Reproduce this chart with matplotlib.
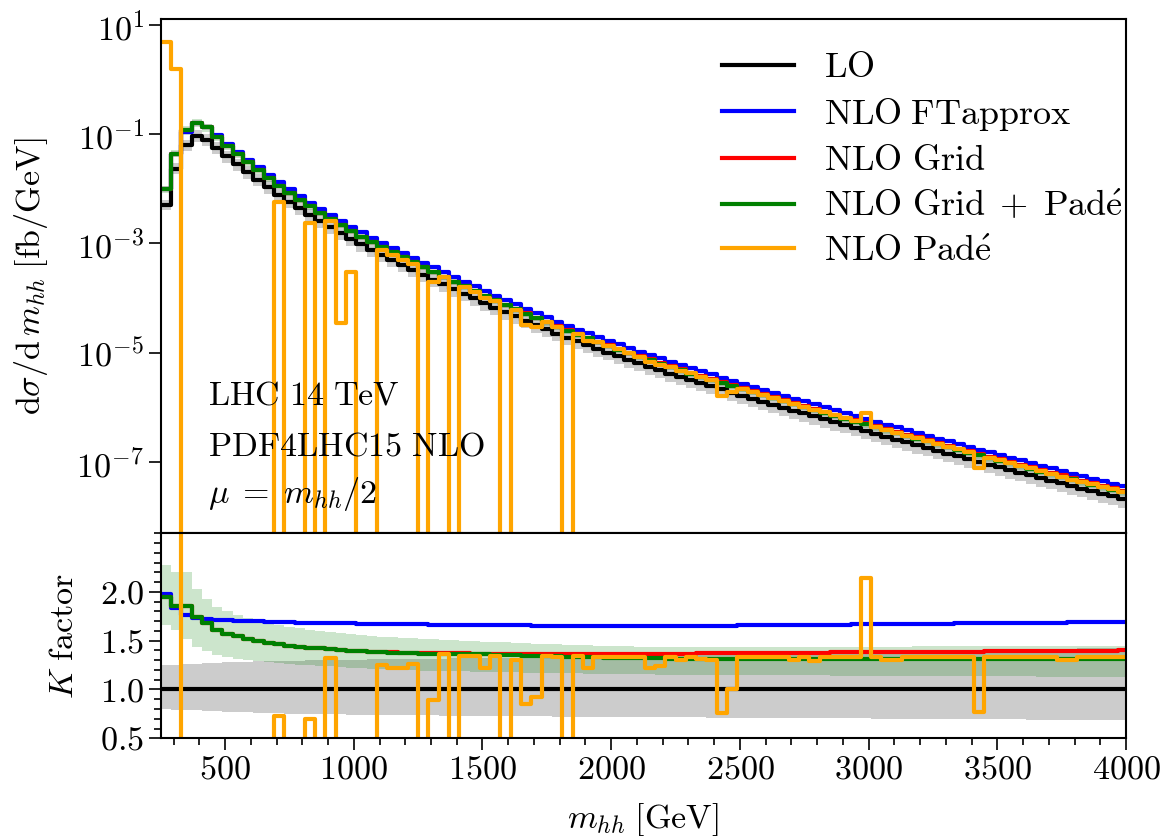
import numpy as np
import matplotlib
matplotlib.use('Agg')
import matplotlib.pyplot as plt
from matplotlib.ticker import FixedLocator, NullLocator, MultipleLocator, FuncFormatter

plt.rcParams['mathtext.fontset'] = 'cm'
plt.rcParams['font.family'] = ['cmr10', 'DejaVu Serif']
plt.rcParams['axes.formatter.use_mathtext'] = True

# ---------------- data ----------------
bin_start = 250.0
bin_width = 40.0
n_bins = 94

lo_log10 = [
    -2.30, -1.63, -1.20, -1.03, -1.10, -1.255, -1.407, -1.555, -1.699, -1.839,
    -1.975, -2.107, -2.235, -2.359, -2.479, -2.595, -2.707, -2.815, -2.919, -3.019,
    -3.116, -3.210, -3.301, -3.393, -3.484, -3.574, -3.663, -3.751, -3.838, -3.924,
    -4.009, -4.093, -4.176, -4.258, -4.339, -4.419, -4.498, -4.576, -4.653, -4.725,
    -4.796, -4.866, -4.935, -5.002, -5.069, -5.134, -5.199, -5.262, -5.324, -5.386,
    -5.446, -5.505, -5.563, -5.620, -5.676, -5.732, -5.787, -5.843, -5.898, -5.953,
    -6.007, -6.062, -6.116, -6.170, -6.223, -6.277, -6.330, -6.383, -6.436, -6.488,
    -6.541, -6.593, -6.645, -6.696, -6.748, -6.799, -6.850, -6.900, -6.951, -7.001,
    -7.051, -7.101, -7.150, -7.200, -7.249, -7.298, -7.346, -7.395, -7.443, -7.491,
    -7.538, -7.586, -7.633, -7.680]

k_ftapprox = [
    1.975, 1.83, 1.76, 1.73, 1.72, 1.715, 1.71, 1.705, 1.70, 1.697,
    1.694, 1.691, 1.688, 1.686, 1.684, 1.682, 1.68, 1.678, 1.676, 1.674,
    1.672, 1.67, 1.669, 1.668, 1.667, 1.666, 1.665, 1.664, 1.663, 1.662,
    1.661, 1.66, 1.659, 1.658, 1.657, 1.656, 1.655, 1.654, 1.653, 1.652,
    1.652, 1.651, 1.651, 1.651, 1.651, 1.651, 1.651, 1.651, 1.651, 1.651,
    1.652, 1.652, 1.653, 1.653, 1.654, 1.655, 1.656, 1.656, 1.657, 1.658,
    1.659, 1.66, 1.661, 1.662, 1.663, 1.664, 1.665, 1.666, 1.667, 1.668,
    1.669, 1.67, 1.671, 1.672, 1.673, 1.674, 1.675, 1.676, 1.677, 1.678,
    1.679, 1.68, 1.681, 1.682, 1.683, 1.684, 1.685, 1.686, 1.687, 1.687,
    1.688, 1.688, 1.689, 1.689]

k_grid = [
    1.95, 1.86, 1.86, 1.74, 1.68, 1.61, 1.57, 1.545, 1.52, 1.50,
    1.48, 1.465, 1.45, 1.44, 1.43, 1.42, 1.41, 1.40, 1.395, 1.39,
    1.385, 1.383, 1.379, 1.377, 1.375, 1.373, 1.372, 1.371, 1.370, 1.369,
    1.368, 1.367, 1.366, 1.365, 1.364, 1.364, 1.363, 1.363, 1.362, 1.362,
    1.362, 1.362, 1.362, 1.362, 1.363, 1.364, 1.364, 1.365, 1.366, 1.367,
    1.367, 1.368, 1.369, 1.370, 1.370, 1.371, 1.372, 1.373, 1.373, 1.374,
    1.375, 1.376, 1.376, 1.377, 1.378, 1.379, 1.379, 1.380, 1.381, 1.382,
    1.382, 1.383, 1.384, 1.385, 1.385, 1.386, 1.387, 1.388, 1.388, 1.389,
    1.390, 1.391, 1.391, 1.392, 1.393, 1.394, 1.394, 1.395, 1.396, 1.397,
    1.397, 1.398, 1.399, 1.400]

k_grid_pade = [
    1.95, 1.86, 1.86, 1.74, 1.68, 1.61, 1.57, 1.545, 1.52, 1.50,
    1.48, 1.465, 1.45, 1.44, 1.43, 1.42, 1.41, 1.40, 1.395, 1.39,
    1.385, 1.38, 1.375, 1.372, 1.37, 1.368, 1.366, 1.365, 1.364, 1.363,
    1.362, 1.36, 1.357, 1.354, 1.351, 1.348, 1.345, 1.342, 1.339, 1.336,
    1.333, 1.330, 1.328, 1.326, 1.324, 1.322, 1.320, 1.319, 1.318, 1.317,
    1.316, 1.315, 1.315, 1.315, 1.315, 1.315, 1.315, 1.315, 1.315, 1.315,
    1.315, 1.315, 1.315, 1.315, 1.315, 1.315, 1.315, 1.315, 1.315, 1.315,
    1.315, 1.315, 1.315, 1.315, 1.315, 1.315, 1.315, 1.315, 1.315, 1.315,
    1.315, 1.315, 1.315, 1.315, 1.315, 1.315, 1.315, 1.315, 1.315, 1.315,
    1.315, 1.315, 1.315, 1.315]

k_pade = [
    985.0, 66.0, 0, 0, 0, 0, 0, 0, 0, 0,
    0, 0.73, 0, 0, 0.70, 0, 1.32, 0.023, 0.25, 0,
    0, 1.25, 1.22, 1.22, 1.26, 0, 0.89, 1.36, 0, 1.34,
    1.34, 1.22, 1.34, 0, 1.30, 0.85, 0.92, 1.34, 1.33, 0,
    1.34, 1.22, 1.335, 1.335, 1.335, 1.335, 1.335, 1.22, 1.24, 1.335,
    1.30, 1.335, 1.31, 1.30, 0.76, 1.01, 1.335, 1.335, 1.335, 1.335,
    1.335, 1.30, 1.335, 1.29, 1.335, 1.335, 1.335, 1.335, 2.14, 1.335,
    1.30, 1.30, 1.335, 1.335, 1.335, 1.335, 1.335, 1.335, 1.335, 0.77,
    1.335, 1.335, 1.335, 1.335, 1.335, 1.335, 1.335, 1.30, 1.30, 1.335,
    1.335, 1.335, 1.335, 1.335]

lo_band_low = [
    0.80, 0.795, 0.79, 0.785, 0.78, 0.776, 0.772, 0.768, 0.765, 0.762,
    0.759, 0.756, 0.754, 0.752, 0.75, 0.748, 0.746, 0.744, 0.742, 0.741,
    0.74, 0.739, 0.738, 0.737, 0.736, 0.735, 0.734, 0.733, 0.732, 0.731,
    0.73, 0.729, 0.728, 0.727, 0.726, 0.726, 0.725, 0.724, 0.723, 0.723,
    0.722, 0.721, 0.72, 0.72, 0.719, 0.718, 0.718, 0.717, 0.716, 0.716,
    0.715, 0.714, 0.714, 0.713, 0.712, 0.712, 0.711, 0.71, 0.71, 0.709,
    0.708, 0.708, 0.707, 0.706, 0.706, 0.705, 0.704, 0.704, 0.703, 0.702,
    0.702, 0.701, 0.70, 0.70, 0.699, 0.698, 0.698, 0.697, 0.696, 0.696,
    0.695, 0.694, 0.694, 0.693, 0.692, 0.692, 0.691, 0.69, 0.69, 0.689,
    0.688, 0.688, 0.687, 0.686]

lo_band_high = [
    1.25, 1.255, 1.26, 1.265, 1.27, 1.274, 1.278, 1.281, 1.284, 1.287,
    1.29, 1.292, 1.294, 1.296, 1.298, 1.30, 1.302, 1.304, 1.305, 1.306,
    1.308, 1.309, 1.31, 1.311, 1.313, 1.314, 1.316, 1.317, 1.319, 1.32,
    1.321, 1.323, 1.324, 1.326, 1.327, 1.329, 1.33, 1.331, 1.333, 1.334,
    1.336, 1.337, 1.339, 1.34, 1.341, 1.343, 1.344, 1.346, 1.347, 1.349,
    1.35, 1.352, 1.353, 1.355, 1.356, 1.358, 1.359, 1.361, 1.362, 1.364,
    1.365, 1.367, 1.368, 1.37, 1.371, 1.373, 1.374, 1.376, 1.377, 1.379,
    1.38, 1.382, 1.384, 1.387, 1.389, 1.391, 1.393, 1.395, 1.397, 1.40,
    1.402, 1.404, 1.406, 1.408, 1.41, 1.413, 1.415, 1.417, 1.419, 1.421,
    1.423, 1.426, 1.428, 1.43]

nlo_band_low = [
    1.66, 1.61, 1.52, 1.44, 1.39, 1.355, 1.33, 1.315, 1.30, 1.29,
    1.28, 1.272, 1.264, 1.256, 1.249, 1.242, 1.236, 1.23, 1.224, 1.218,
    1.212, 1.206, 1.20, 1.198, 1.196, 1.194, 1.192, 1.19, 1.188, 1.186,
    1.184, 1.182, 1.18, 1.178, 1.176, 1.174, 1.172, 1.17, 1.168, 1.166,
    1.164, 1.162, 1.16, 1.158, 1.157, 1.156, 1.155, 1.154, 1.153, 1.152,
    1.151, 1.15, 1.15, 1.149, 1.149, 1.148, 1.148, 1.147, 1.147, 1.146,
    1.146, 1.145, 1.145, 1.144, 1.144, 1.143, 1.143, 1.142, 1.142, 1.141,
    1.141, 1.14, 1.14, 1.139, 1.139, 1.138, 1.138, 1.137, 1.137, 1.136,
    1.136, 1.135, 1.135, 1.134, 1.134, 1.133, 1.133, 1.132, 1.132, 1.131,
    1.131, 1.13, 1.13, 1.13]

nlo_band_high = [
    2.28, 2.20, 2.20, 2.03, 1.93, 1.85, 1.80, 1.76, 1.73, 1.70,
    1.68, 1.66, 1.64, 1.625, 1.61, 1.60, 1.59, 1.58, 1.57, 1.56,
    1.55, 1.54, 1.535, 1.53, 1.525, 1.52, 1.515, 1.51, 1.505, 1.50,
    1.495, 1.49, 1.486, 1.482, 1.478, 1.474, 1.47, 1.466, 1.462, 1.458,
    1.455, 1.452, 1.449, 1.446, 1.444, 1.442, 1.44, 1.438, 1.437, 1.436,
    1.435, 1.435, 1.435, 1.435, 1.435, 1.435, 1.436, 1.436, 1.436, 1.436,
    1.437, 1.437, 1.437, 1.437, 1.438, 1.438, 1.438, 1.439, 1.439, 1.439,
    1.44, 1.44, 1.44, 1.441, 1.441, 1.441, 1.442, 1.442, 1.442, 1.443,
    1.443, 1.443, 1.444, 1.444, 1.444, 1.445, 1.445, 1.445, 1.446, 1.446,
    1.446, 1.447, 1.447, 1.447]

legend_labels = [r'$\mathrm{LO}$', r'$\mathrm{NLO\;FTapprox}$', r'$\mathrm{NLO\ Grid}$',
                 r'$\mathrm{NLO\ Grid}\;+\;\mathrm{Pad\acute{e}}$', r'$\mathrm{NLO\ Pad\acute{e}}$']
colors = ['black', 'blue', 'red', 'green', 'orange']
info_lines = [r'$\mathrm{LHC\ 14\ TeV}$', r'$\mathrm{PDF4LHC15\ NLO}$', r'$\mu\;=\;m_{hh}/2$']
x_range = (250, 4000)

# ---------------- derived ----------------
edges = bin_start + bin_width * np.arange(n_bins + 1)
lo = 10.0 ** np.array(lo_log10)
kk = [np.ones(n_bins), np.array(k_ftapprox), np.array(k_grid), np.array(k_grid_pade), np.array(k_pade)]


def step_xy(vals):
    x = np.repeat(edges, 2)[1:-1]
    y = np.repeat(np.asarray(vals, dtype=float), 2)
    return x, y


fig = plt.figure(figsize=(11.67, 8.39), dpi=100)
ax1 = fig.add_axes([0.1377, 0.3644, 0.8272, 0.6130])
ax2 = fig.add_axes([0.1377, 0.1200, 0.8272, 0.2444], sharex=ax1)

FS = 24.5
LFS = 26.0
LW = 3.0

# top panel
ax1.set_yscale('log')
ax1.stairs(lo * np.array(lo_band_high), edges, baseline=lo * np.array(lo_band_low),
           fill=True, color='black', alpha=0.2, lw=0)
ax1.stairs(lo * np.array(nlo_band_high), edges, baseline=lo * np.array(nlo_band_low),
           fill=True, color='green', alpha=0.2, lw=0)
handles = []
for k, c, lab in zip(kk, colors, legend_labels):
    x, y = step_xy(lo * k)
    h, = ax1.plot(x, y, color=c, lw=LW, label=lab)
    handles.append(h)

ax1.set_xlim(*x_range)
ax1.set_ylim(10 ** -8.31, 10 ** 1.11)
ax1.yaxis.set_major_locator(FixedLocator([1e1, 1e-1, 1e-3, 1e-5, 1e-7]))
ax1.yaxis.set_minor_locator(NullLocator())
ax1.yaxis.set_major_formatter(FuncFormatter(lambda v, p: r'$10^{%d}$' % int(round(np.log10(v)))))
ax1.tick_params(axis='x', which='both', length=0, labelbottom=False)
ax1.tick_params(axis='y', which='major', length=8.5, width=1.2, labelsize=FS, direction='out')
ax1.set_ylabel(r'$\mathrm{d}\sigma/\mathrm{d}\,m_{hh}\;[\mathrm{fb/GeV}]$', fontsize=FS)

leg = ax1.legend(handles=handles, loc='upper left', bbox_to_anchor=(0.5815, 0.936),
                 frameon=False, fontsize=LFS, borderpad=0, borderaxespad=0,
                 handlelength=2.0, labelspacing=0.33, handletextpad=0.82)

for i, t in enumerate(info_lines):
    ax1.text(0.049, [0.2495, 0.152, 0.059][i], t, transform=ax1.transAxes,
             fontsize=FS, ha='left', va='baseline')

# bottom panel
ax2.stairs(np.array(lo_band_high), edges, baseline=np.array(lo_band_low),
           fill=True, color='black', alpha=0.2, lw=0)
ax2.stairs(np.array(nlo_band_high), edges, baseline=np.array(nlo_band_low),
           fill=True, color='green', alpha=0.2, lw=0)
for k, c in zip(kk, colors):
    x, y = step_xy(k)
    ax2.plot(x, y, color=c, lw=LW)

ax2.set_ylim(0.5, 2.6)
ax2.yaxis.set_major_locator(FixedLocator([0.5, 1.0, 1.5, 2.0]))
ax2.yaxis.set_minor_locator(MultipleLocator(0.1))
ax2.yaxis.set_major_formatter(FuncFormatter(lambda v, p: r'$%.1f$' % v))
ax2.xaxis.set_major_locator(FixedLocator([500, 1000, 1500, 2000, 2500, 3000, 3500, 4000]))
ax2.xaxis.set_minor_locator(MultipleLocator(100))
ax2.xaxis.set_major_formatter(FuncFormatter(lambda v, p: r'$%d$' % int(v)))
ax2.tick_params(which='major', length=8.5, width=1.2, labelsize=FS, direction='out')
ax2.tick_params(which='minor', length=5, width=1.2, direction='out')
ax2.set_ylabel(r'$K\ \mathrm{factor}$', fontsize=FS)
ax2.set_xlabel(r'$m_{hh}\;[\mathrm{GeV}]$', fontsize=FS, labelpad=12)

for ax in (ax1, ax2):
    for s in ax.spines.values():
        s.set_linewidth(1.5)

ax1.yaxis.set_label_coords(-0.115, 0.5)
ax2.yaxis.set_label_coords(-0.085, 0.5)

fig.savefig('out.png', dpi=100)
